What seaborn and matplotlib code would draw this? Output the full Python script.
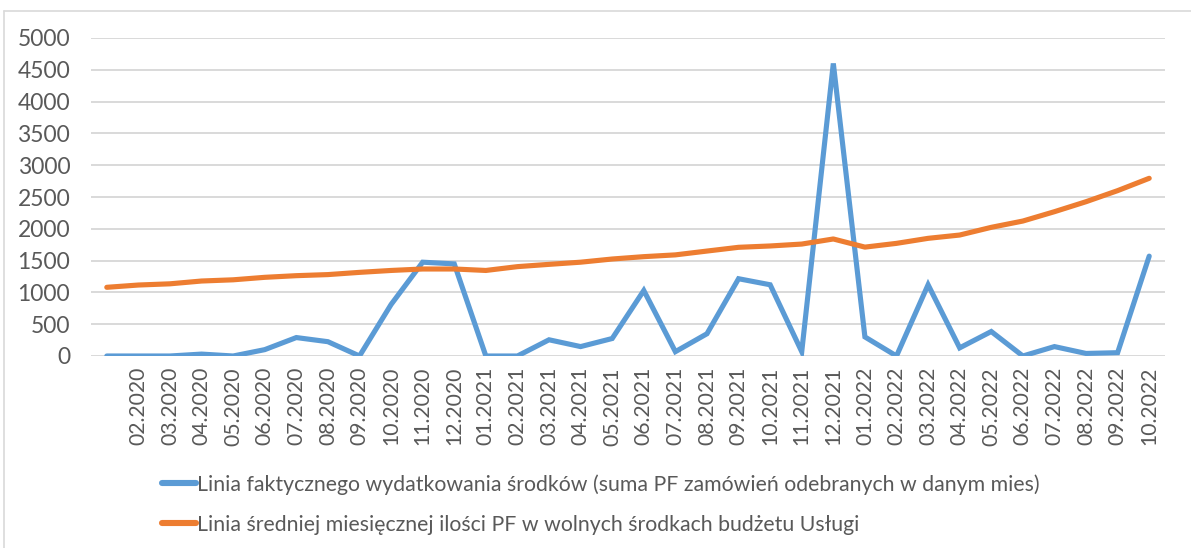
import numpy as np
import pandas as pd
import matplotlib
matplotlib.use('Agg')
import matplotlib.pyplot as plt
from matplotlib.lines import Line2D
import seaborn as sns

# ── Data ──────────────────────────────────────────────────────────────────────
months = [''] + [f"{m:02d}.2020" for m in range(2, 13)] \
    + [f"{m:02d}.2021" for m in range(1, 13)] \
    + [f"{m:02d}.2022" for m in range(1, 11)]

actual_spend = [0, 0, 0, 30, 0, 100, 290, 225, 0, 810, 1475, 1448,
                0, 0, 255, 148, 275, 1030, 68, 350, 1215, 1120, 68, 4600,
                300, 0, 1120, 128, 385, 0, 148, 40, 52, 1570]

avg_free = [1080, 1116, 1135, 1179, 1198, 1237, 1263, 1280, 1315, 1345, 1368, 1368,
            1345, 1405, 1441, 1475, 1525, 1562, 1590, 1650, 1709, 1730, 1760, 1840,
            1712, 1771, 1850, 1902, 2023, 2122, 2269, 2426, 2600, 2794]

label_actual = "Linia faktycznego wydatkowania środków (suma PF zamówień odebranych w danym mies)"
label_avg = "Linia średniej miesięcznej ilości PF w wolnych środkach budżetu Usługi"

BLUE = '#5B9BD5'
ORANGE = '#ED7D31'
GRAY_TXT = '#595959'

df = pd.DataFrame({'idx': np.arange(len(months)), 'actual': actual_spend, 'avg': avg_free})

# ── Figure ────────────────────────────────────────────────────────────────────
sns.set_style('white')
plt.rcParams['font.family'] = ['Lato', 'DejaVu Sans']

W, H = 1191, 548
fig = plt.figure(figsize=(W / 100, H / 100), dpi=100)
ax = fig.add_axes([91 / W, 1 - 356 / H, (1165 - 91) / W, (356 - 38) / H])

sns.lineplot(data=df, x='idx', y='actual', ax=ax, color=BLUE, linewidth=3.7,
             solid_capstyle='round', solid_joinstyle='miter', zorder=3)
sns.lineplot(data=df, x='idx', y='avg', ax=ax, color=ORANGE, linewidth=3.7,
             solid_capstyle='round', zorder=3)

ax.set_xlim(-0.5, len(months) - 0.5)
ax.set_ylim(0, 5000)
ax.set_yticks(np.arange(0, 5001, 500))
ax.set_xticks(df['idx'])
ax.set_xticklabels(months, rotation=90, fontsize=15.2, color=GRAY_TXT)
ax.tick_params(axis='y', labelsize=16.5, labelcolor=GRAY_TXT, length=0, pad=15)
ax.tick_params(axis='x', length=0, pad=8)
ax.grid(axis='y', color='#D9D9D9', linewidth=1.4, zorder=0)
ax.set_xlabel('')
ax.set_ylabel('')
for s in ax.spines.values():
    s.set_visible(False)

# ── Legend ────────────────────────────────────────────────────────────────────
handles = [Line2D([], [], color=BLUE, linewidth=4.4),
           Line2D([], [], color=ORANGE, linewidth=4.4)]
fig.legend(handles, [label_actual, label_avg], loc='upper left',
           bbox_to_anchor=(143 / W, 1 - 455 / H), frameon=False,
           fontsize=15.3, labelcolor=GRAY_TXT, handlelength=1.6,
           handletextpad=0.05, labelspacing=0.95)

# chart border (top + left)
fig.add_artist(Line2D([4 / W, 1], [1 - 11 / H, 1 - 11 / H], color='#D9D9D9', linewidth=1.2))
fig.add_artist(Line2D([4 / W, 4 / W], [0, 1 - 11 / H], color='#D9D9D9', linewidth=1.2))

fig.savefig('out.png', dpi=100)
